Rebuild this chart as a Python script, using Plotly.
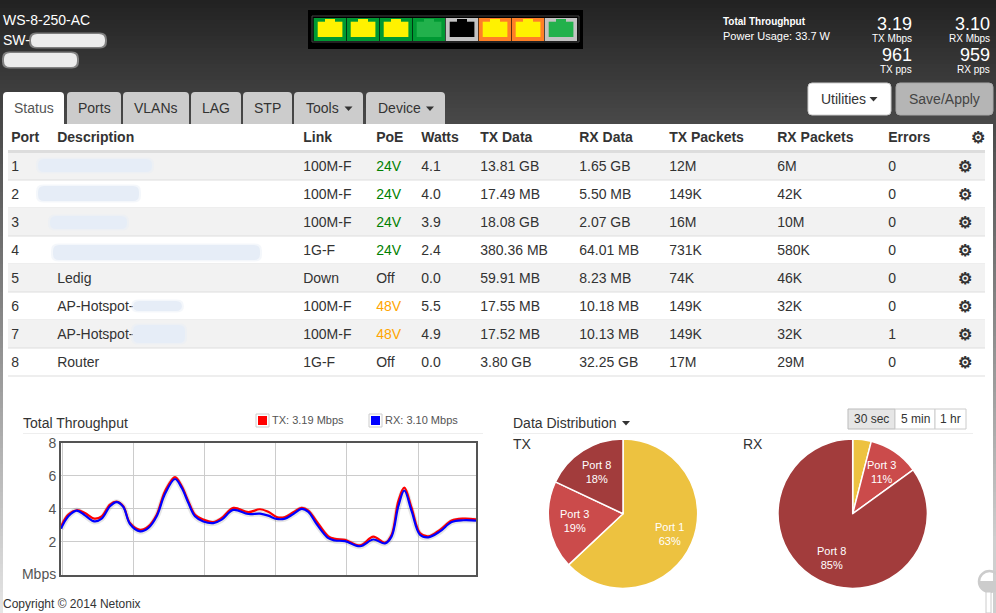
import plotly.graph_objects as go

W = 996
H = 613
FONT = "Liberation Sans"

# port table
table_header = ["Port", "Description", "Link", "PoE", "Watts", "TX Data", "RX Data", "TX Packets", "RX Packets", "Errors", "⚙"]
ports = ["1", "2", "3", "4", "5", "6", "7", "8"]
descriptions = ["", "", "", "", "Ledig", "AP-Hotspot-", "AP-Hotspot-", "Router"]
links = ["100M-F", "100M-F", "100M-F", "1G-F", "Down", "100M-F", "100M-F", "1G-F"]
poe = ["24V", "24V", "24V", "24V", "Off", "48V", "48V", "Off"]
watts = ["4.1", "4.0", "3.9", "2.4", "0.0", "5.5", "4.9", "0.0"]
tx_data = ["13.81 GB", "17.49 MB", "18.08 GB", "380.36 MB", "59.91 MB", "17.55 MB", "17.52 MB", "3.80 GB"]
rx_data = ["1.65 GB", "5.50 MB", "2.07 GB", "64.01 MB", "8.23 MB", "10.18 MB", "10.13 MB", "32.25 GB"]
tx_packets = ["12M", "149K", "16M", "731K", "74K", "149K", "149K", "17M"]
rx_packets = ["6M", "42K", "10M", "580K", "46K", "32K", "32K", "29M"]
errors = ["0", "0", "0", "0", "0", "0", "1", "0"]
gears = ["⚙"] * 8

# throughput chart, seconds from the left edge and Mbps
seconds = [0, 1.03, 2.2, 3.37, 4.68, 5.71, 6.88, 7.82, 8.75, 9.69, 11.1, 12.27, 13.44, 14.61, 16.01, 16.95,
           17.88, 18.82, 19.99, 21.4, 22.57, 24.2, 26.31, 27.95, 29.12, 30.29, 31.46, 32.63, 33.8, 34.74, 35.91,
           37.55, 38.48, 39.89, 42.0, 43.87, 45.51, 46.44, 47.38, 48.22, 49.25, 50.42, 51.59, 53.23, 54.87, 56.51, 58.29]
tx_mbps = [2.93, 3.64, 3.91, 3.74, 3.40, 3.54, 4.26, 4.44, 4.15, 3.13, 2.72, 2.93, 3.64, 5.07, 5.93, 5.38,
           4.46, 3.64, 3.34, 3.19, 3.44, 4.05, 3.79, 3.97, 3.81, 3.5, 3.5, 3.79, 4.05, 3.89, 3.23,
           2.32, 2.17, 2.11, 1.77, 2.30, 1.93, 2.42, 4.46, 5.28, 4.05, 2.52, 2.32, 2.72, 3.28, 3.40, 3.36]
rx_mbps = [2.79, 3.54, 3.89, 3.60, 3.23, 3.40, 4.15, 4.40, 4.11, 3.07, 2.62, 2.83, 3.54, 4.91, 5.81, 5.28,
           4.36, 3.54, 3.23, 3.13, 3.34, 3.93, 3.68, 3.70, 3.58, 3.38, 3.40, 3.68, 3.99, 3.81, 3.07,
           2.21, 2.07, 2.03, 1.72, 2.13, 1.89, 2.32, 4.15, 5.11, 3.85, 2.42, 2.26, 2.62, 3.19, 3.30, 3.28]
y_ticks = [0, 2, 4, 6, 8]
y_labels = ["Mbps", "2", "4", "6", "8"]

# pies
pie_labels = ["Port 1", "Port 3", "Port 8"]
pie_colors = ["#edc240", "#cb4b4b", "#a23c3c"]
tx_share = [63, 19, 18]
rx_share = [4, 11, 85]

# port icons along the top
port_tile = ["#009933"] * 4 + ["#c3c3c3", "#ff7f27", "#ff7f27", "#c3c3c3"]
port_jack = ["#fff200", "#fff200", "#fff200", "#22b14c", "#000000", "#fff200", "#fff200", "#22b14c"]

tabs = [("Status", 3, 64, 34), ("Ports", 67, 121, 94), ("VLANs", 123, 189, 156), ("LAG", 191, 241, 216),
        ("STP", 243, 292, 267.5), ("Tools", 294, 363, 322), ("Device", 366, 445, 399)]


def px(x):
    return x / W


def py(y):
    return 1 - y / H


def rect(x0, y0, x1, y1, fill, line=None, width=1, layer="below", opacity=1):
    return dict(type="rect", xref="paper", yref="paper", x0=px(x0), x1=px(x1), y0=py(y0), y1=py(y1),
                fillcolor=fill, line=dict(color=line or fill, width=width if line else 0), layer=layer, opacity=opacity)


def rounded(x0, y0, x1, y1, r, fill, line=None, top_only=False, layer="below", opacity=1):
    p = f"M{px(x0)},{py(y0 + r)} Q{px(x0)},{py(y0)} {px(x0 + r)},{py(y0)} L{px(x1 - r)},{py(y0)} Q{px(x1)},{py(y0)} {px(x1)},{py(y0 + r)} "
    if top_only:
        p += f"L{px(x1)},{py(y1)} L{px(x0)},{py(y1)} Z"
    else:
        p += (f"L{px(x1)},{py(y1 - r)} Q{px(x1)},{py(y1)} {px(x1 - r)},{py(y1)} L{px(x0 + r)},{py(y1)} "
              f"Q{px(x0)},{py(y1)} {px(x0)},{py(y1 - r)} Z")
    return dict(type="path", xref="paper", yref="paper", path=p, fillcolor=fill,
                line=dict(color=line or fill, width=1 if line else 0), layer=layer, opacity=opacity)


def smudge(x0, y0, x1, y1, fill, opacity=1):
    # soft edge: a wider faint blob under the solid one
    return [rounded(x0 - 2, y0 - 1.5, x1 + 2, y1 + 1.5, 7, fill, layer="above", opacity=0.45 * opacity),
            rounded(x0, y0, x1, y1, 6, fill, layer="above", opacity=opacity)]


def caret(x, y, color="#333333"):
    p = f"M{px(x - 4)},{py(y - 2)} L{px(x + 4)},{py(y - 2)} L{px(x)},{py(y + 2.5)} Z"
    return dict(type="path", xref="paper", yref="paper", path=p, fillcolor=color, line=dict(width=0), layer="above")


def label(x, y, text, size=14, color="#333333", anchor="left", bold=False):
    if bold:
        text = f"<b>{text}</b>"
    # annotations keep 2px of padding round the text
    if anchor == "left":
        x -= 2
    elif anchor == "right":
        x += 2
    return dict(xref="paper", yref="paper", x=px(x), y=py(y), text=text, showarrow=False, xanchor=anchor,
                yanchor="middle", align=anchor, font=dict(family=FONT, size=size, color=color))


shapes = []
notes = []

# page background: dark at the top and fading towards the bottom
for top in range(0, H, 4):
    level = int(34 + 0.32 * (top + 2))
    shapes.append(rect(0, top, W, top + 4, f"rgb({level},{level},{level})"))
shapes.append(rect(3, 124, 993, H, "#ffffff"))

# port strip
shapes.append(rect(308, 10, 583, 49, "#000000"))
shapes.append(rect(312, 16, 579, 42, "#000000", line="#444444"))
for i, (tile, jack) in enumerate(zip(port_tile, port_jack)):
    left = 313.7 + 33 * i
    shapes.append(rect(left, 18, left + 32.4, 41, tile))
    shapes.append(rect(left + 4, 21.7, left + 28.7, 37, jack))
    shapes.append(rect(left + 11.3, 19, left + 21.3, 22, jack))

# tabs and buttons
for i, (name, x0, x1, mid) in enumerate(tabs):
    shapes.append(rounded(x0, 92, x1, 124, 4, "#ffffff" if i == 0 else "#cccccc", top_only=True))
    notes.append(label(mid, 108, name, color="#555555" if i == 0 else "#333333", anchor="center"))
shapes.append(caret(348.5, 108.5))
shapes.append(caret(430, 108.5))
shapes.append(rounded(808, 83, 891, 115, 4, "#ffffff", line="#cccccc"))
shapes.append(rounded(896, 83, 993, 115, 4, "#b5b5b5", line="#a8a8a8"))
shapes.append(caret(873.5, 99))
notes.append(label(843.7, 99, "Utilities", anchor="center"))
notes.append(label(944.3, 99, "Save/Apply", color="#444444", anchor="center"))

# header text
notes.append(label(3, 20, "WS-8-250-AC", color="#ffffff"))
notes.append(label(3, 40, "SW-", color="#ffffff"))
shapes += smudge(31, 34, 105, 47, "#ffffff", opacity=0.85)
shapes += smudge(4, 53, 77, 67, "#ffffff", opacity=0.85)
notes.append(label(723, 21, "Total Throughput", size=10, color="#ffffff", bold=True))
notes.append(label(723, 36, "Power Usage: 33.7 W", size=11, color="#ffffff"))
for right, big_top, small_top, big_low, small_low in [(912, "3.19", "TX Mbps", "961", "TX pps"),
                                                      (989.5, "3.10", "RX Mbps", "959", "RX pps")]:
    notes.append(label(right, 23.5, big_top, size=18, color="#ffffff", anchor="right"))
    notes.append(label(right, 38.5, small_top, size=10, color="#ffffff", anchor="right"))
    notes.append(label(right, 55, big_low, size=18, color="#ffffff", anchor="right"))
    notes.append(label(right, 70, small_low, size=10, color="#ffffff", anchor="right"))

# table rows behind the table trace
for i in range(len(ports)):
    top = 152 + 28 * i
    if i % 2 == 0:
        shapes.append(rect(8, top, 985, top + 28, "#f2f2f2"))
    shapes.append(rect(8, top + 27.5, 985, top + 28.5, "#dddddd"))
shapes.append(rect(8, 150, 985, 153, "#dddddd"))

# redacted descriptions
for x0, y0, x1, y1 in [(38, 159, 152, 172), (38, 186, 139, 201), (50, 216, 127, 229), (53, 245, 260, 260),
                       (133, 301, 182, 311), (133, 325, 185, 343)]:
    shapes += smudge(x0, y0, x1, y1, "#e6edf7")

# section titles
notes.append(label(23, 423, "Total Throughput"))
shapes.append(rect(23, 433, 483, 434, "#eeeeee"))
for x0, color, text in [(256, "#ff0000", "TX: 3.19 Mbps"), (369, "#0000ff", "RX: 3.10 Mbps")]:
    shapes.append(rect(x0, 414, x0 + 13, 427, "#ffffff", line="#cccccc"))
    shapes.append(rect(x0 + 2, 416, x0 + 11, 425, color))
    notes.append(label(x0 + 16, 420, text, size=11, color="#545454"))
notes.append(label(513, 423, "Data Distribution"))
shapes.append(caret(626, 423))
shapes.append(rect(513, 433, 973, 434, "#eeeeee"))
notes.append(label(513, 444, "TX"))
notes.append(label(743, 444, "RX"))
shapes.append(rect(848, 409, 895, 429, "#e6e6e6", line="#bbbbbb"))
shapes.append(rect(895, 409, 935, 429, "#ffffff", line="#cccccc"))
shapes.append(rect(935, 409, 966, 429, "#ffffff", line="#cccccc"))
for mid, text in [(871.5, "30 sec"), (915, "5 min"), (950.5, "1 hr")]:
    notes.append(label(mid, 419, text, size=12, anchor="center"))
notes.append(label(3, 604, "Copyright © 2014 Netonix", size=12))

# pie labels
for x, y, name, share in [(669, 534, pie_labels[0], tx_share[0]), (574, 520.7, pie_labels[1], tx_share[1]),
                          (596.3, 471.7, pie_labels[2], tx_share[2]), (881, 471.7, pie_labels[1], rx_share[1]),
                          (831, 558.3, pie_labels[2], rx_share[2])]:
    notes.append(label(x, y, f"{name}<br>{share}%", size=11, color="#ffffff", anchor="center"))

# the grey key at the bottom right
shapes.append(rect(993, 540, 996, H, "#cfcfcf", layer="above"))
shapes.append(dict(type="circle", xref="paper", yref="paper", x0=px(979), x1=px(1000), y0=py(571), y1=py(592),
                   fillcolor="rgba(0,0,0,0)", line=dict(color="#cccccc", width=2.5), layer="above"))
shapes.append(dict(type="path", xref="paper", yref="paper", layer="above", fillcolor="#cccccc", line=dict(width=0),
                   path=f"M{px(979)},{py(581)} Q{px(979)},{py(592)} {px(989.5)},{py(592)} Q{px(1000)},{py(592)} {px(1000)},{py(581)} Z"))
shapes.append(rect(986, 592, 991, H, "#ffffff", line="#cccccc", layer="above"))

fig = go.Figure()

# no <b> in table cells, markup makes plotly grow the rows; weight does the same job
fig.add_trace(go.Table(
    domain=dict(x=[px(3.2), px(993.2)], y=[py(378), py(123)]),
    columnwidth=[46, 246, 73, 45, 59, 99, 90, 108, 111, 70, 43],
    header=dict(values=table_header, height=29, align=["left"] * 10 + ["right"],
                fill_color="rgba(0,0,0,0)", line_width=0,
                font=dict(family=FONT, size=[14] * 10 + [16], color="#333333", weight=700)),
    cells=dict(values=[ports, descriptions, links, poe, watts, tx_data, rx_data, tx_packets, rx_packets, errors, gears],
               height=28, align="left", fill_color="rgba(0,0,0,0)", line_width=0,
               font=dict(family=FONT, size=[14] * 10 + [16], weight=[400] * 10 + [700],
                         color=[["#333333"] * 8] * 3
                         + [[{"24V": "#008000", "48V": "#ffa500"}.get(v, "#333333") for v in poe]]
                         + [["#333333"] * 8] * 7)),
))

fig.add_trace(go.Scatter(x=seconds, y=rx_mbps, mode="lines", line=dict(color="rgba(0,0,0,0.10)", width=6, shape="spline")))
fig.add_trace(go.Scatter(x=seconds, y=tx_mbps, mode="lines", line=dict(color="#ff0000", width=2.2, shape="spline")))
fig.add_trace(go.Scatter(x=seconds, y=rx_mbps, mode="lines", line=dict(color="#0000ff", width=2.2, shape="spline")))

for share, cx in [(tx_share, 623), (rx_share, 852.7)]:
    fig.add_trace(go.Pie(
        labels=pie_labels, values=share, sort=False, direction="clockwise", rotation=0, textinfo="none",
        marker=dict(colors=pie_colors, line=dict(color="#ffffff", width=1.5)),
        domain=dict(x=[px(cx - 74.7), px(cx + 74.7)], y=[py(588.4), py(439)]),
    ))

fig.update_layout(
    width=W,
    height=H,
    margin=dict(l=0, r=0, t=0, b=0, autoexpand=False),
    paper_bgcolor="#ffffff",
    plot_bgcolor="#ffffff",
    showlegend=False,
    shapes=shapes,
    annotations=notes,
    font=dict(family=FONT),
    xaxis=dict(domain=[px(61), px(476)], range=[0, 58.29], tick0=10.15, dtick=10, showticklabels=False, ticks="",
               gridcolor="#cccccc", gridwidth=1, zeroline=False, showline=True, linecolor="#545454", linewidth=2, mirror=True),
    yaxis=dict(domain=[py(574.5), py(443)], range=[0, 8], tickvals=y_ticks, ticktext=y_labels, gridcolor="#cccccc", gridwidth=1,
               zeroline=False, showline=True, linecolor="#545454", linewidth=2, mirror=True,
               tickfont=dict(family=FONT, size=14, color="#545454")),
)

fig.write_html("out.html", config={"displayModeBar": False}, post_script="document.body.style.margin='0';")
